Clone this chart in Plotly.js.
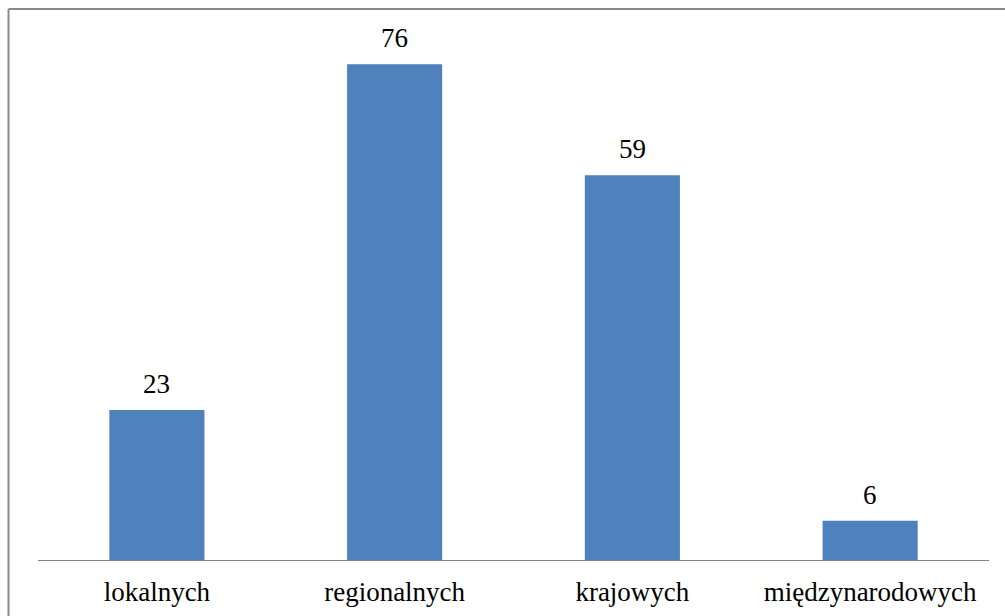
<!DOCTYPE html>
<html>
<head>
<meta charset="utf-8">
<script src="https://cdn.plot.ly/plotly-3.0.1.min.js"></script>
<style>
  html, body { margin: 0; padding: 0; background: #ffffff; }
  #chart { width: 1005px; height: 616px; }
</style>
</head>
<body>
<div id="chart"></div>
<script>
// Categories and counts
const categories = ['lokalnych', 'regionalnych', 'krajowych', 'międzynarodowych'];
const counts = [23, 76, 59, 6];

const W = 1005, H = 616;
const margin = { l: 38, r: 16, t: 10, b: 56 };
const plotW = W - margin.l - margin.r;
const plotH = H - margin.t - margin.b;

// convert page pixels to paper coordinates for the frame lines
const px2x = px => (px - margin.l) / plotW;
const py2y = py => (H - margin.b - py) / plotH;

const serif = 'Liberation Serif';

const trace = {
  type: 'bar',
  x: categories,
  y: counts,
  marker: { color: '#4f81bd' },
  hoverinfo: 'skip'
};

// value labels above each bar
const annotations = categories.map((c, i) => ({
  x: c,
  y: counts[i],
  xref: 'x',
  yref: 'y',
  text: String(counts[i]),
  showarrow: false,
  yanchor: 'bottom',
  yshift: 9,
  font: { family: serif, size: 27, color: '#000000' }
}));

const frame = { type: 'line', xref: 'paper', yref: 'paper', line: { color: '#8a8a8a', width: 2 } };
const shapes = [
  Object.assign({}, frame, { x0: px2x(8.5), x1: px2x(1010), y0: py2y(9), y1: py2y(9) }),
  Object.assign({}, frame, { x0: px2x(8.5), x1: px2x(8.5), y0: py2y(9), y1: py2y(620) })
];

const layout = {
  width: W,
  height: H,
  margin: margin,
  paper_bgcolor: '#ffffff',
  plot_bgcolor: '#ffffff',
  showlegend: false,
  bargap: 0.6,
  font: { family: serif },
  xaxis: {
    type: 'category',
    showline: true,
    linecolor: '#868686',
    linewidth: 1.3,
    ticks: '',
    showgrid: false,
    zeroline: false,
    tickfont: { family: serif, size: 27, color: '#000000' },
    ticklabelstandoff: 7
  },
  yaxis: {
    visible: false,
    range: [0, plotH / (495.7 / 76)],
    showgrid: false,
    zeroline: false
  },
  annotations: annotations,
  shapes: shapes
};

Plotly.newPlot('chart', [trace], layout, { displayModeBar: false, staticPlot: true });
</script>
</body>
</html>
